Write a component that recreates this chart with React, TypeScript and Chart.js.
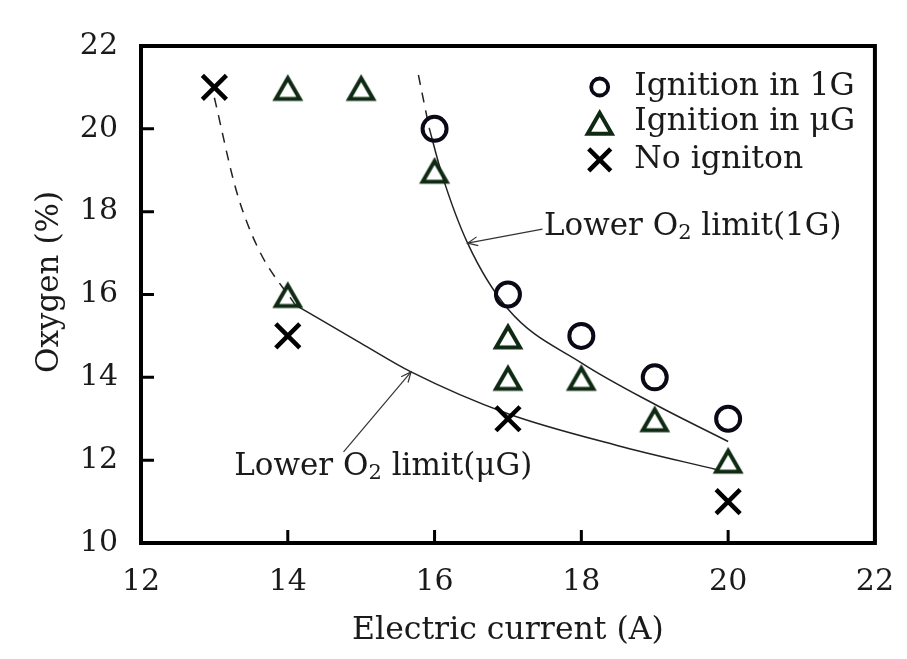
import React, { useEffect, useRef } from "react";
import { Chart, registerables } from "chart.js";

Chart.register(...registerables);

// ---- data ----
const ignition1G = [
  { x: 16, y: 20 },
  { x: 17, y: 16 },
  { x: 18, y: 15 },
  { x: 19, y: 14 },
  { x: 20, y: 13 },
];
const ignitionMuG = [
  { x: 14, y: 21 },
  { x: 15, y: 21 },
  { x: 16, y: 19 },
  { x: 14, y: 16 },
  { x: 17, y: 15 },
  { x: 17, y: 14 },
  { x: 18, y: 14 },
  { x: 19, y: 13 },
  { x: 20, y: 12 },
];
const noIgnition = [
  { x: 13, y: 21 },
  { x: 14, y: 15 },
  { x: 17, y: 13 },
  { x: 20, y: 11 },
];
const limit1GDashed = [
  { x: 15.78, y: 21.3 },
  { x: 15.86, y: 20.6 },
  { x: 15.93, y: 20.0 },
];
const limit1GSolid = [
  { x: 15.93, y: 20.0 },
  { x: 16.1, y: 18.9 },
  { x: 16.45, y: 17.24 },
  { x: 17.0, y: 15.65 },
  { x: 18.0, y: 14.35 },
  { x: 19.0, y: 13.35 },
  { x: 20.0, y: 12.45 },
];
const limitMuGDashed = [
  { x: 13.0, y: 20.75 },
  { x: 13.3, y: 18.5 },
  { x: 13.6, y: 17.1 },
  { x: 14.1, y: 15.75 },
];
const limitMuGSolid = [
  { x: 14.1, y: 15.75 },
  { x: 15.0, y: 14.82 },
  { x: 15.68, y: 14.13 },
  { x: 17.0, y: 13.12 },
  { x: 18.5, y: 12.35 },
  { x: 19.85, y: 11.77 },
];
const xTicks = [12, 14, 16, 18, 20, 22];
const yTicks = [10, 12, 14, 16, 18, 20, 22];
const legendLabels = ["Ignition in 1G", "Ignition in \u03BCG", "No igniton"];
const xTitle = "Electric current (A)";
const yTitle = "Oxygen (%)";

// annotation anchors (data units)
const note1G = { tail: { x: 17.47, y: 17.58 }, tip: { x: 16.45, y: 17.24 }, text: { x: 17.49, y: 17.63 }, label: ["Lower O", "2", " limit(1G)"] };
const noteMuG = { tail: { x: 14.76, y: 12.2 }, tip: { x: 15.68, y: 14.13 }, text: { x: 13.27, y: 11.83 }, label: ["Lower O", "2", " limit(\u03BCG)"] };
const legendAnchor = { x: 18.25, y: [21.01, 20.16, 19.25], textX: 18.72 };

const FONT = "'DejaVu Serif', serif";
const INK = "#1a1a1a";
const TRI = "#0f2a12";
const CIRC = "#0a0a16";

function pathTriangle(ctx: CanvasRenderingContext2D, cx: number, cy: number) {
  const hw = 12;
  const h = 20.8;
  const off = 1.2;
  ctx.beginPath();
  ctx.moveTo(cx, cy - h / 2 + off);
  ctx.lineTo(cx + hw, cy + h / 2 + off);
  ctx.lineTo(cx - hw, cy + h / 2 + off);
  ctx.closePath();
}

function makeTriangleImage(): HTMLCanvasElement {
  const c = document.createElement("canvas");
  c.width = 40;
  c.height = 40;
  const g = c.getContext("2d") as CanvasRenderingContext2D;
  g.strokeStyle = TRI;
  g.lineWidth = 4;
  g.lineJoin = "miter";
  pathTriangle(g, 20, 20);
  g.stroke();
  return c;
}

function drawMarker(ctx: CanvasRenderingContext2D, kind: number, px: number, py: number) {
  ctx.save();
  if (kind === 0) {
    ctx.lineWidth = 3.8;
    ctx.strokeStyle = CIRC;
    ctx.beginPath();
    ctx.arc(px, py, 8.5, 0, Math.PI * 2);
    ctx.stroke();
  } else if (kind === 1) {
    ctx.strokeStyle = TRI;
    ctx.lineWidth = 4;
    ctx.lineJoin = "miter";
    pathTriangle(ctx, px, py);
    ctx.stroke();
  } else {
    const d = 11;
    ctx.strokeStyle = "#000";
    ctx.lineWidth = 4.5;
    ctx.beginPath();
    ctx.moveTo(px - d, py - d);
    ctx.lineTo(px + d, py + d);
    ctx.moveTo(px + d, py - d);
    ctx.lineTo(px - d, py + d);
    ctx.stroke();
  }
  ctx.restore();
}

function drawSubText(ctx: CanvasRenderingContext2D, parts: string[], x: number, y: number, size: number) {
  ctx.save();
  ctx.fillStyle = INK;
  ctx.textBaseline = "middle";
  ctx.textAlign = "left";
  ctx.font = `${size}px ${FONT}`;
  ctx.fillText(parts[0], x, y);
  let cx = x + ctx.measureText(parts[0]).width;
  ctx.font = `${Math.round(size * 0.68)}px ${FONT}`;
  ctx.fillText(parts[1], cx, y + size * 0.2);
  cx += ctx.measureText(parts[1]).width;
  ctx.font = `${size}px ${FONT}`;
  ctx.fillText(parts[2], cx, y);
  ctx.restore();
}

function drawArrow(ctx: CanvasRenderingContext2D, x0: number, y0: number, x1: number, y1: number) {
  ctx.save();
  ctx.strokeStyle = "#333";
  ctx.lineWidth = 1.2;
  ctx.beginPath();
  ctx.moveTo(x0, y0);
  ctx.lineTo(x1, y1);
  ctx.stroke();
  const ang = Math.atan2(y1 - y0, x1 - x0);
  const L = 11;
  const s = 0.42;
  ctx.beginPath();
  ctx.moveTo(x1 - L * Math.cos(ang - s), y1 - L * Math.sin(ang - s));
  ctx.lineTo(x1, y1);
  ctx.lineTo(x1 - L * Math.cos(ang + s), y1 - L * Math.sin(ang + s));
  ctx.stroke();
  ctx.restore();
}

const overlay = {
  id: "overlay",
  afterDatasetsDraw(chart: any) {
    const { ctx, chartArea: a, scales } = chart;
    const x = scales.x;
    const y = scales.y;
    ctx.save();
    // frame
    ctx.strokeStyle = "#000";
    ctx.lineWidth = 4;
    ctx.strokeRect(a.left, a.top, a.right - a.left, a.bottom - a.top);
    // inward ticks
    ctx.lineWidth = 3;
    ctx.beginPath();
    yTicks.forEach((v) => {
      const py = y.getPixelForValue(v);
      ctx.moveTo(a.left, py);
      ctx.lineTo(a.left + 13, py);
    });
    xTicks.forEach((v) => {
      const px = x.getPixelForValue(v);
      ctx.moveTo(px, a.bottom);
      ctx.lineTo(px, a.bottom - 13);
    });
    ctx.stroke();

    // legend
    const lx = x.getPixelForValue(legendAnchor.x);
    const tx = x.getPixelForValue(legendAnchor.textX);
    legendLabels.forEach((lab, i) => {
      const py = y.getPixelForValue(legendAnchor.y[i]);
      drawMarker(ctx, i, lx, py);
      ctx.fillStyle = INK;
      ctx.font = `31.5px ${FONT}`;
      ctx.textBaseline = "middle";
      ctx.textAlign = "left";
      ctx.fillText(lab, tx, py);
    });

    // annotations
    [note1G, noteMuG].forEach((n) => {
      drawArrow(
        ctx,
        x.getPixelForValue(n.tail.x),
        y.getPixelForValue(n.tail.y),
        x.getPixelForValue(n.tip.x),
        y.getPixelForValue(n.tip.y)
      );
      drawSubText(ctx, n.label, x.getPixelForValue(n.text.x), y.getPixelForValue(n.text.y), 31);
    });

    // axis titles
    ctx.fillStyle = INK;
    ctx.font = `31.5px ${FONT}`;
    ctx.textAlign = "center";
    ctx.textBaseline = "middle";
    ctx.fillText(xTitle, (a.left + a.right) / 2, a.bottom + 88);
    ctx.save();
    ctx.font = `31px ${FONT}`;
    ctx.translate(50, a.top + 236);
    ctx.rotate(-Math.PI / 2);
    ctx.fillText(yTitle, 0, 0);
    ctx.restore();

    ctx.restore();
  },
};

export default function App() {
  const ref = useRef<HTMLCanvasElement | null>(null);
  useEffect(() => {
    if (!ref.current) return;
    const triImg = makeTriangleImage();
    const curve = (data: any[], dashed: boolean) => ({
      data,
      showLine: true,
      borderColor: "#222",
      borderWidth: 1.5,
      borderDash: dashed ? [10, 8] : [],
      pointRadius: 0,
      tension: 0.4,
      cubicInterpolationMode: "monotone",
      order: 2,
    });
    const chart = new Chart(ref.current, {
      type: "scatter",
      data: {
        datasets: [
          {
            label: legendLabels[0],
            data: ignition1G,
            pointStyle: "circle",
            pointRadius: 12,
            borderWidth: 4,
            borderColor: CIRC,
            backgroundColor: "rgba(0,0,0,0)",
            order: 0,
          },
          {
            label: legendLabels[1],
            data: ignitionMuG,
            pointStyle: triImg,
            pointRadius: 14,
            order: 0,
          },
          {
            label: legendLabels[2],
            data: noIgnition,
            pointStyle: "crossRot",
            pointRadius: 17,
            borderWidth: 4.5,
            borderColor: "#000",
            backgroundColor: "rgba(0,0,0,0)",
            order: 0,
          },
          curve(limit1GDashed, true),
          curve(limit1GSolid, false),
          curve(limitMuGDashed, true),
          curve(limitMuGSolid, false),
        ] as any,
      },
      options: {
        animation: false,
        responsive: false,
        layout: { padding: { left: 0, top: 46, right: 27, bottom: 0 } },
        plugins: { legend: { display: false }, tooltip: { enabled: false } },
        scales: {
          x: {
            type: "linear",
            min: 12,
            max: 22,
            afterBuildTicks: (s: any) => {
              s.ticks = xTicks.map((v) => ({ value: v }));
            },
            afterFit: (s: any) => {
              s.height = 116;
            },
            grid: { display: false },
            border: { display: false },
            ticks: { color: INK, padding: 13, font: { family: FONT, size: 30 } },
          },
          y: {
            type: "linear",
            min: 10,
            max: 22,
            afterBuildTicks: (s: any) => {
              s.ticks = yTicks.map((v) => ({ value: v }));
            },
            afterFit: (s: any) => {
              s.width = 141;
            },
            grid: { display: false },
            border: { display: false },
            ticks: { color: INK, padding: 15, font: { family: FONT, size: 30 } },
          },
        },
      } as any,
      plugins: [overlay],
    });
    return () => chart.destroy();
  }, []);
  return (
    <div style={{ position: "absolute", left: 0, top: 0, width: 907, height: 659, background: "#fff" }}>
      <canvas ref={ref} width={907} height={659} style={{ display: "block" }} />
    </div>
  );
}
